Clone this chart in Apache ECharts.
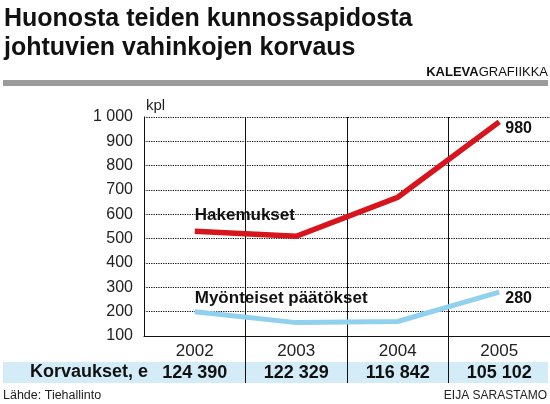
<!DOCTYPE html>
<html><head><meta charset="utf-8">
<script src="https://cdn.jsdelivr.net/npm/echarts@6/dist/echarts.min.js"></script>
<style>html,body{margin:0;padding:0;background:#fff}#c{width:550px;height:404px}</style>
</head><body><div id="c"></div>
<script>
const years = ['2002', '2003', '2004', '2005'];
const hakemukset = [530, 510, 670, 980];
const myonteiset = [200, 155, 160, 280];
const korvaukset = [124390, 122329, 116842, 105102];
const titleLines = ['Huonosta teiden kunnossapidosta', 'johtuvien vahinkojen korvaus'];
const seriesNames = ['Hakemukset', 'Myönteiset päätökset'];
const FONT = "'Liberation Sans', Arial, Helvetica, sans-serif";

function fmt(n){ return String(n).replace(/\B(?=(\d{3})+(?!\d))/g, ' '); }

function buildData(vals, startDist, endOffset){
  return vals.map((v, i) => {
    if (i === 0) return { value: v, label: { show: true, position: 'top', align: 'left', distance: startDist,
      formatter: '{a}', fontFamily: FONT, fontWeight: 'bold', fontSize: 17, color: '#111' } };
    if (i === vals.length - 1) return { value: v, label: { show: true, position: 'right', distance: 6, offset: [0, endOffset],
      formatter: '{c}', fontFamily: FONT, fontWeight: 'bold', fontSize: 16, color: '#111' } };
    return v;
  });
}

const chart = echarts.init(document.getElementById('c'), null, { renderer: 'canvas' });
chart.setOption({
  animation: false,
  backgroundColor: '#fff',
  textStyle: { fontFamily: FONT },
  grid: { left: 144, right: 0, top: 117, bottom: 68, containLabel: false },
  graphic: [
    { type: 'text', left: 4, top: 5, style: { text: titleLines.join('\n'), font: 'bold 25px ' + FONT, lineHeight: 29, fill: '#111' } },
    { type: 'text', right: 2, top: 66, style: { text: '{b|KALEVA}{r|GRAFIIKKA}', rich: {
        b: { fontFamily: FONT, fontWeight: 'bold', fontSize: 13, fill: '#111' },
        r: { fontFamily: FONT, fontSize: 13, fill: '#111' } } } },
    { type: 'rect', shape: { x: 3, y: 80, width: 545, height: 6 }, style: { fill: '#9b9b9b' } },
    { type: 'rect', z: -1, shape: { x: 3, y: 362, width: 545, height: 21 }, style: { fill: '#d3ecf8' } },
    { type: 'text', right: 402, top: 363, style: { text: 'Korvaukset, e', font: 'bold 18px ' + FONT, fill: '#111', align: 'right' } },
    { type: 'text', left: 3, top: 389, style: { text: 'Lähde: Tiehallinto', font: '12.5px ' + FONT, fill: '#222' } },
    { type: 'text', right: 3, top: 390, style: { text: 'EIJA SARASTAMO', font: '12px ' + FONT, fill: '#222' } }
  ],
  xAxis: {
    type: 'category', data: years, boundaryGap: true,
    axisLine: { show: true, lineStyle: { color: '#111', width: 1 } },
    axisTick: { show: true, length: 47, interval: (i) => i > 0, lineStyle: { color: '#111', width: 1 } },
    splitLine: { show: true, interval: (i) => i > 0, lineStyle: { color: '#111', width: 1, type: 'solid' } },
    axisLabel: {
      margin: 4,
      formatter: (v, i) => '{y|' + v + '}\n{v|' + fmt(korvaukset[i]) + '}',
      rich: {
        y: { fontFamily: FONT, fontSize: 17, color: '#222', lineHeight: 22 },
        v: { fontFamily: FONT, fontSize: 18, fontWeight: 'bold', color: '#111', lineHeight: 22 }
      }
    }
  },
  yAxis: {
    type: 'value', min: 100, max: 1000, interval: 100,
    name: 'kpl', nameLocation: 'end', nameGap: 4,
    nameTextStyle: { fontFamily: FONT, fontSize: 15, color: '#222', align: 'left', padding: [0, 0, 0, 2] },
    axisLine: { show: true, lineStyle: { color: '#111', width: 1 } },
    axisTick: { show: false },
    splitLine: { show: true, lineStyle: { color: '#000', width: 1.2, type: 'dotted' } },
    axisLabel: { margin: 11, fontFamily: FONT, fontSize: 16, color: '#222', formatter: (v) => fmt(v) }
  },
  series: [
    { name: seriesNames[0], type: 'line', data: buildData(hakemukset, 8, 7), symbol: 'circle', symbolSize: 0, showSymbol: true,
      itemStyle: { color: '#d8141c' },
      lineStyle: { color: '#d8141c', width: 5.5, cap: 'butt', join: 'miter' }, z: 5 },
    { name: seriesNames[1], type: 'line', data: buildData(myonteiset, 5, 6), symbol: 'circle', symbolSize: 0, showSymbol: true,
      itemStyle: { color: '#8fd1ef' },
      lineStyle: { color: '#8fd1ef', width: 5, cap: 'butt', join: 'miter' }, z: 4 }
  ]
});
</script></body></html>
